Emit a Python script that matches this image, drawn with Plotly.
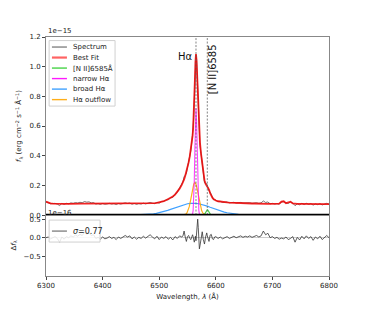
import plotly.graph_objects as go

# ---------------- data (flux in units of 1e-15, residual in units of 1e-16) -------------
wave_a = list(range(6300, 6541, 4))
wave_b = [6542, 6544, 6546, 6548, 6550, 6552, 6554, 6556, 6558,
          6559, 6560, 6561, 6562, 6563, 6564, 6565, 6566, 6567, 6568, 6569, 6570, 6571, 6572,
          6574, 6576, 6578, 6580, 6582, 6584, 6585, 6586, 6588, 6590, 6592, 6594, 6596, 6598]
wave_c = list(range(6600, 6801, 4))

bestfit_a = [0.090, 0.083, 0.079, 0.077, 0.076,
             0.076, 0.076, 0.076, 0.076, 0.076, 0.076, 0.077, 0.077, 0.077, 0.077,
             0.077, 0.077, 0.077, 0.077, 0.077, 0.076, 0.076, 0.076, 0.076, 0.076,
             0.076, 0.076, 0.076, 0.076, 0.076, 0.076, 0.076, 0.076, 0.076, 0.076,
             0.076, 0.076, 0.076, 0.076, 0.076, 0.076, 0.076, 0.076, 0.076, 0.076,
             0.076,
             0.077, 0.078, 0.080, 0.082, 0.085, 0.089, 0.094, 0.100, 0.107, 0.115,
             0.125, 0.138, 0.155, 0.178, 0.205]
bestfit_b = [0.220, 0.240, 0.265, 0.290, 0.320, 0.355, 0.395, 0.440, 0.500,
             0.535, 0.585, 0.665, 0.775, 0.905, 1.030, 1.085, 1.040, 0.930, 0.810, 0.700, 0.610, 0.540, 0.490,
             0.410, 0.340, 0.280, 0.235, 0.210, 0.198, 0.195, 0.190, 0.172, 0.148, 0.130, 0.117, 0.108, 0.102]
bestfit_c = [0.098, 0.093, 0.090, 0.088, 0.086, 0.085, 0.084, 0.083, 0.082, 0.081,
             0.081, 0.080, 0.080, 0.079, 0.079, 0.078, 0.078, 0.078, 0.077, 0.077,
             0.077, 0.077, 0.077, 0.076, 0.076, 0.076, 0.076, 0.076, 0.077, 0.090,
             0.093, 0.080, 0.083, 0.090, 0.078, 0.075, 0.075, 0.075, 0.075, 0.074,
             0.074, 0.074, 0.074, 0.074, 0.073, 0.073, 0.073, 0.073, 0.073, 0.073,
             0.073]

resid_a = [0.00, 0.02, -0.03, 0.01, 0.03, -0.02, -0.12, 0.02, -0.04, 0.03,
           0.00, 0.05, 0.02, 0.07, 0.04, 0.09, 0.06, 0.14, 0.10, 0.12,
           0.06, 0.08, -0.02, 0.01, -0.04, 0.02, -0.03, -0.01, 0.03, -0.02,
           0.01, -0.05, 0.02, -0.02, 0.03, 0.06, 0.02, 0.05, -0.03, 0.02,
           -0.04, 0.01, -0.02, 0.04, -0.01, 0.03, 0.08, 0.02, -0.03, 0.04,
           -0.05, 0.02, -0.02, 0.03, -0.04, 0.01, -0.06, 0.03, -0.02, 0.05,
           0.02]
resid_b = [0.05, 0.18, 0.02, -0.10, 0.03, 0.06, -0.02, -0.05, 0.04,
           0.08, 0.02, -0.06, -0.12, -0.05, 0.04, -0.08, 0.12, 0.30, 0.50, 0.28, -0.10, -0.30, -0.22,
           0.05, 0.16, -0.05, -0.17, 0.02, 0.13, 0.05, -0.04, -0.10, 0.07, 0.09, -0.03, -0.05, 0.02]
resid_c = [0.03, -0.02, 0.02, -0.03, 0.01, 0.03, -0.02, 0.02, 0.04, 0.00,
           0.03, 0.05, 0.01, 0.04, 0.02, 0.05, 0.01, 0.03, 0.06, 0.02,
           0.05, 0.18, 0.08, 0.12, 0.00, 0.03, -0.02, 0.01, -0.04, -0.01,
           -0.03, 0.02, -0.05, -0.02, 0.03, -0.12, 0.01, -0.06, 0.04, -0.03,
           0.05, -0.02, 0.03, -0.07, 0.02, -0.03, 0.04, -0.05, 0.02, 0.06,
           0.00]

# fitted components
nii_wave = list(range(6578, 6593, 1))
nii_flux = [0.0007, 0.0020, 0.0047, 0.0097, 0.0170, 0.0254, 0.0323, 0.0350,
            0.0323, 0.0254, 0.0170, 0.0097, 0.0047, 0.0020, 0.0007]
narrow_wave = list(range(6557, 6574, 1))
narrow_flux = [0.0002, 0.0016, 0.0080, 0.0316, 0.0974, 0.2338, 0.4367, 0.6354, 0.7200,
               0.6354, 0.4367, 0.2338, 0.0974, 0.0316, 0.0080, 0.0016, 0.0002]
broad_wave = list(range(6460, 6661, 5))
broad_flux = [0.0008, 0.0013, 0.0019, 0.0029, 0.0042, 0.0060, 0.0084, 0.0115, 0.0153, 0.0200,
              0.0254, 0.0316, 0.0384, 0.0456, 0.0529, 0.0600, 0.0666, 0.0722, 0.0764, 0.0791,
              0.0800,
              0.0791, 0.0764, 0.0722, 0.0666, 0.0600, 0.0529, 0.0456, 0.0384, 0.0316, 0.0254,
              0.0200, 0.0153, 0.0115, 0.0084, 0.0060, 0.0042, 0.0029, 0.0019, 0.0013, 0.0008]
outflow_wave = list(range(6543, 6584, 2))
outflow_flux = [0.0009, 0.0024, 0.0063, 0.0145, 0.0298, 0.0549, 0.0904, 0.1334, 0.1762, 0.2081,
                0.2200,
                0.2081, 0.1762, 0.1334, 0.0904, 0.0549, 0.0298, 0.0145, 0.0063, 0.0024, 0.0009]

line_names = ["Hα", "[N II]6585"]
line_waves = [6565, 6585]
legend_names = ["Spectrum", "Best Fit", "[N II]6585Å", "narrow Hα", "broad Hα", "Hα outflow"]
sigma_label = "<i>σ</i>=0.77"

# ---------------- assemble ----------------
wave = wave_a + wave_b + wave_c
bestfit = bestfit_a + bestfit_b + bestfit_c
resid = resid_a + resid_b + resid_c
spectrum = [m + r / 10.0 for m, r in zip(bestfit, resid)]

FONT = "DejaVu Sans"
C_SPEC = "#555555"
C_FIT = "rgba(240,0,0,0.85)"
C_NII = "rgba(50,205,50,0.9)"
C_NAR = "rgba(255,0,255,0.9)"
C_BRD = "rgba(30,144,255,0.85)"
C_OUT = "rgba(255,165,0,0.9)"
leg_styles = [(C_SPEC, 1.0), ("rgba(255,60,60,0.8)", 2.2), (C_NII, 1.4), (C_NAR, 1.4), (C_BRD, 1.4), (C_OUT, 1.4)]

fig = go.Figure()
fig.add_trace(go.Scatter(x=wave, y=spectrum, mode="lines", name=legend_names[0],
                         line=dict(color=C_SPEC, width=0.8), xaxis="x", yaxis="y"))
fig.add_trace(go.Scatter(x=broad_wave, y=broad_flux, mode="lines", name=legend_names[4],
                         line=dict(color=C_BRD, width=1.2), xaxis="x", yaxis="y"))
fig.add_trace(go.Scatter(x=outflow_wave, y=outflow_flux, mode="lines", name=legend_names[5],
                         line=dict(color=C_OUT, width=1.2), xaxis="x", yaxis="y"))
fig.add_trace(go.Scatter(x=nii_wave, y=nii_flux, mode="lines", name=legend_names[2],
                         line=dict(color=C_NII, width=1.2), xaxis="x", yaxis="y"))
fig.add_trace(go.Scatter(x=wave, y=bestfit, mode="lines", name=legend_names[1],
                         line=dict(color=C_FIT, width=1.8), xaxis="x", yaxis="y"))
fig.add_trace(go.Scatter(x=narrow_wave, y=narrow_flux, mode="lines", name=legend_names[3],
                         line=dict(color="rgba(255,0,255,0.75)", width=1.1), xaxis="x", yaxis="y"))
fig.add_trace(go.Scatter(x=wave, y=resid, mode="lines", name="residual",
                         line=dict(color="#333333", width=0.8), xaxis="x2", yaxis="y2"))

shapes = []
for lw in line_waves:
    shapes.append(dict(type="line", xref="x", yref="y", x0=lw, x1=lw, y0=0, y1=1.2,
                       line=dict(color="#666666", width=0.8, dash="2px,1.5px"), layer="above"))
shapes.append(dict(type="line", xref="x domain", yref="y", x0=0, x1=1, y0=0, y1=0,
                   line=dict(color="black", width=2.5), layer="above"))

annotations = [
    dict(text="1e−15", xref="paper", yref="paper", x=0, y=1.0, xanchor="left", yanchor="bottom",
         showarrow=False, font=dict(size=7, family=FONT, color="#222")),
    dict(text="1e−16", xref="paper", yref="paper", x=0, y=0.262, xanchor="left", yanchor="middle",
         showarrow=False, font=dict(size=7, family=FONT, color="#222")),
    dict(text=line_names[0], xref="x", yref="y", x=line_waves[0], y=1.07, xanchor="right", yanchor="middle",
         xshift=-1, showarrow=False, font=dict(size=10, family=FONT, color="#111")),
    dict(text=line_names[1], xref="x", yref="y", x=line_waves[1], y=0.985, xanchor="center", yanchor="middle",
         xshift=6, textangle=-90, showarrow=False, font=dict(size=10, family=FONT, color="#111")),
]

# legend of the upper panel (box, handles and labels in axes-fraction coordinates)
shapes.append(dict(type="rect", xref="paper", yref="paper", x0=0.011, x1=0.244, y0=0.711, y1=0.985,
                   line=dict(color="#d0d0d0", width=1), fillcolor="rgba(255,255,255,0.85)", layer="above"))
row_y = [0.958, 0.914, 0.870, 0.826, 0.782, 0.738]
for name, (col, wid), yy in zip(legend_names, leg_styles, row_y):
    shapes.append(dict(type="line", xref="paper", yref="paper", x0=0.021, x1=0.074, y0=yy, y1=yy,
                       line=dict(color=col, width=wid), layer="above"))
    annotations.append(dict(text=name, xref="paper", yref="paper", x=0.09, y=yy, xanchor="left",
                            yanchor="middle", showarrow=False, font=dict(size=7, family=FONT, color="#222")))

# legend of the residual panel
shapes.append(dict(type="rect", xref="paper", yref="paper", x0=0.011, x1=0.191, y0=0.142, y1=0.234,
                   line=dict(color="#d0d0d0", width=1), fillcolor="rgba(255,255,255,0.85)", layer="above"))
shapes.append(dict(type="line", xref="paper", yref="paper", x0=0.021, x1=0.074, y0=0.188, y1=0.188,
                   line=dict(color="#555555", width=1.0), layer="above"))
annotations.append(dict(text=sigma_label, xref="paper", yref="paper", x=0.09, y=0.188, xanchor="left",
                        yanchor="middle", showarrow=False, font=dict(size=8, family=FONT, color="#222")))

axis_common = dict(showline=True, linecolor="#888888", linewidth=1, mirror=True,
                   showgrid=False, zeroline=False, ticks="outside", ticklen=3, tickwidth=0.8,
                   tickcolor="#444", tickfont=dict(size=7, family=FONT, color="#222"))

fig.update_layout(
    width=366, height=311,
    margin=dict(l=46, r=37, t=37, b=35),
    paper_bgcolor="white", plot_bgcolor="white",
    font=dict(family=FONT, size=7, color="#222"),
    showlegend=False,
    xaxis=dict(domain=[0, 1], anchor="y", range=[6300, 6800], showticklabels=False,
               **{k: v for k, v in axis_common.items() if k != "ticks"}, ticks=""),
    yaxis=dict(domain=[0.255, 1], anchor="x", range=[0, 1.2], dtick=0.2, tickformat=".1f",
               title=dict(text="<i>f</i><sub>λ</sub> (erg cm<sup>−2</sup> s<sup>−1</sup> Å<sup>−1</sup>)",
                          font=dict(size=7, family=FONT), standoff=6),
               **axis_common),
    xaxis2=dict(domain=[0, 1], anchor="y2", range=[6300, 6800], matches="x", dtick=100,
                title=dict(text="Wavelength, <i>λ</i> (Å)", font=dict(size=7, family=FONT), standoff=4),
                **axis_common),
    yaxis2=dict(domain=[0, 0.255], anchor="x2", range=[-1.03, 0.61], tickvals=[-0.5, 0, 0.5],
                tickformat=".1f",
                title=dict(text="Δ<i>f</i><sub>λ</sub>", font=dict(size=7, family=FONT), standoff=6),
                **{k: v for k, v in axis_common.items() if k != "zeroline"},
                zeroline=True, zerolinecolor="#cccccc", zerolinewidth=1),
    shapes=shapes,
    annotations=annotations,
)

fig.write_html("out.html", config={"displayModeBar": False},
               post_script="document.body.style.margin='0px';")
